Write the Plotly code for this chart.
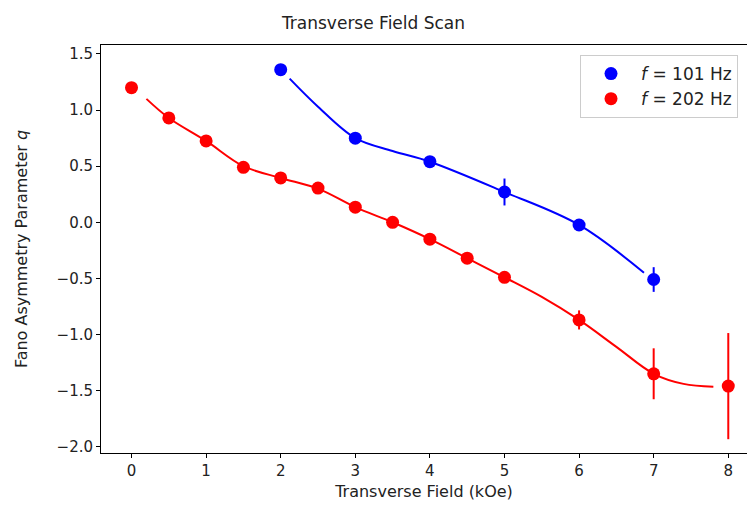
import plotly.graph_objects as go

# Measured Fano asymmetry parameter q versus transverse field
field_101 = [2, 3, 4, 5, 6, 7]
q_101 = [1.36, 0.75, 0.54, 0.27, -0.024, -0.51]
err_101 = [0.02, 0.02, 0.02, 0.12, 0.02, 0.11]

field_202 = [0, 0.5, 1, 1.5, 2, 2.5, 3, 3.5, 4, 4.5, 5, 6, 7, 8]
q_202 = [1.20, 0.93, 0.725, 0.49, 0.395, 0.305, 0.135, 0.0, -0.15, -0.32, -0.49, -0.87, -1.35, -1.46]
err_202 = [0.02, 0.02, 0.02, 0.02, 0.02, 0.02, 0.02, 0.02, 0.02, 0.02, 0.02, 0.085, 0.227, 0.473]

# Smooth fit curves (sampled along each curve)
fit_x_101 = [2.12, 2.5, 3.0, 3.5, 4.0, 5.0, 6.0, 6.87]
fit_q_101 = [1.28, 1.03, 0.75, 0.635, 0.54, 0.27, -0.024, -0.45]

fit_x_202 = [0.2, 0.5, 1.0, 1.5, 2.0, 2.5, 3.0, 3.5, 4.0, 4.5, 5.0, 5.5, 6.0, 6.5, 7.0, 7.4, 7.8]
fit_q_202 = [1.10, 0.93, 0.725, 0.50, 0.395, 0.30, 0.135, 0.0, -0.15, -0.32, -0.49, -0.665, -0.87, -1.11, -1.35, -1.44, -1.465]

x_ticks = [0, 1, 2, 3, 4, 5, 6, 7, 8]
y_ticks = [1.5, 1.0, 0.5, 0.0, -0.5, -1.0, -1.5, -2.0]

BLUE = "#0000ff"
RED = "#ff0000"
FONT = "DejaVu Sans"
TEXT = "#222222"

fig = go.Figure()

fig.add_trace(go.Scatter(
    x=fit_x_101, y=fit_q_101, mode="lines",
    line=dict(color=BLUE, width=2, shape="spline", smoothing=1.0),
    showlegend=False, hoverinfo="skip"))
fig.add_trace(go.Scatter(
    x=fit_x_202, y=fit_q_202, mode="lines",
    line=dict(color=RED, width=2, shape="spline", smoothing=1.0),
    showlegend=False, hoverinfo="skip"))

fig.add_trace(go.Scatter(
    x=field_101, y=q_101, mode="markers",
    marker=dict(color=BLUE, size=13),
    error_y=dict(type="data", array=err_101, color=BLUE, thickness=2, width=0),
    name="<i>f</i> = 101 Hz"))
fig.add_trace(go.Scatter(
    x=field_202, y=q_202, mode="markers",
    marker=dict(color=RED, size=13),
    error_y=dict(type="data", array=err_202, color=RED, thickness=2, width=0),
    name="<i>f</i> = 202 Hz"))

axis_common = dict(
    showgrid=False, zeroline=False, showline=True, linecolor="black", linewidth=1,
    ticks="outside", ticklen=4, tickwidth=1, tickcolor="black",
    tickfont=dict(family=FONT, size=15, color=TEXT),
)

fig.update_xaxes(
    range=[-0.409, 8.251], tickvals=x_ticks, mirror=True,
    title=dict(text="Transverse Field (kOe)", font=dict(family=FONT, size=16, color=TEXT), standoff=6),
    **axis_common)
fig.update_yaxes(
    range=[-2.056, 1.580], tickvals=y_ticks, tickformat=".1f",
    title=dict(text="Fano Asymmetry Parameter <i>q</i>", font=dict(family=FONT, size=16, color=TEXT), standoff=24),
    **axis_common)

fig.update_layout(
    width=747, height=516,
    margin=dict(l=101, r=0, t=45, b=63),
    paper_bgcolor="white", plot_bgcolor="white",
    title=dict(text="Transverse Field Scan", x=0.5, xanchor="center",
               y=1 - 23 / 516, yanchor="middle",
               font=dict(family=FONT, size=17, color=TEXT)),
    legend=dict(x=0.7415, y=0.9755, xanchor="left", yanchor="top",
                bgcolor="white", bordercolor="#cccccc", borderwidth=1,
                font=dict(family=FONT, size=17, color=TEXT),
                itemwidth=50),
    showlegend=True,
)

fig.write_html("out.html")
